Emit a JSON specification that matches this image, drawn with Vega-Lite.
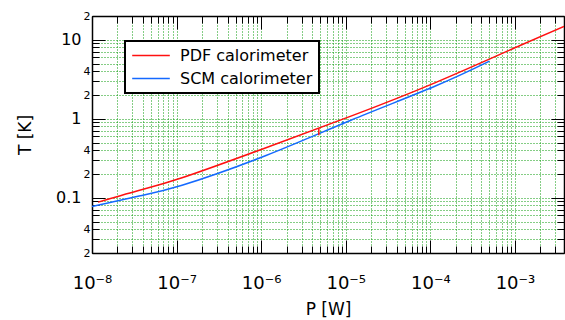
{
  "$schema": "https://vega.github.io/schema/vega-lite/v6.json",
  "width": 472,
  "height": 237,
  "autosize": {"type": "none"},
  "padding": {"left": 92, "top": 16, "right": 1, "bottom": 67},
  "background": "white",
  "datasets": {
    "curves": [
      {"P": 1.18e-8, "T": 0.088, "series": "PDF calorimeter"},
      {"P": 3.4e-8, "T": 0.122, "series": "PDF calorimeter"},
      {"P": 1.16e-7, "T": 0.179, "series": "PDF calorimeter"},
      {"P": 1.14e-6, "T": 0.43, "series": "PDF calorimeter"},
      {"P": 1.15e-5, "T": 1.08, "series": "PDF calorimeter"},
      {"P": 1.13e-4, "T": 2.85, "series": "PDF calorimeter"},
      {"P": 1.15e-3, "T": 8.47, "series": "PDF calorimeter"},
      {"P": 3.8e-3, "T": 14.8, "series": "PDF calorimeter"},
      {"P": 1e-8, "T": 0.0775, "series": "SCM calorimeter"},
      {"P": 3.4e-8, "T": 0.104, "series": "SCM calorimeter"},
      {"P": 1.16e-7, "T": 0.144, "series": "SCM calorimeter"},
      {"P": 1.14e-6, "T": 0.343, "series": "SCM calorimeter"},
      {"P": 1.15e-5, "T": 0.96, "series": "SCM calorimeter"},
      {"P": 1.13e-4, "T": 2.58, "series": "SCM calorimeter"},
      {"P": 5e-4, "T": 5.36, "series": "SCM calorimeter"}
    ],
    "bars": [
      {"P": 4.8e-6, "T1": 0.62, "T2": 0.76, "series": "PDF calorimeter"},
      {"P": 9.3e-6, "T1": 0.85, "T2": 0.93, "series": "SCM calorimeter"},
      {"P": 1e-4, "T1": 2.33, "T2": 2.55, "series": "SCM calorimeter"}
    ]
  },
  "layer": [
    {
      "data": {"name": "curves"},
      "mark": {"type": "line", "strokeWidth": 1.5, "interpolate": "natural", "clip": true},
      "encoding": {
        "x": {
          "field": "P", "type": "quantitative",
          "scale": {"type": "log", "domain": [1e-8, 3.8e-3], "nice": false},
          "axis": {
            "orient": "bottom", "title": null,
            "values": [1e-8, 2e-8, 3e-8, 4e-8, 5e-8, 6e-8, 7e-8, 8e-8, 9e-8, 1e-7, 2e-7, 3e-7, 4e-7, 5e-7, 6e-7, 7e-7, 8e-7, 9e-7, 1e-6, 2e-6, 3e-6, 4e-6, 5e-6, 6e-6, 7e-6, 8e-6, 9e-6, 1e-5, 2e-5, 3e-5, 4e-5, 5e-5, 6e-5, 7e-5, 8e-5, 9e-5, 1e-4, 2e-4, 3e-4, 4e-4, 5e-4, 6e-4, 7e-4, 8e-4, 9e-4, 1e-3, 2e-3, 3e-3],
            "grid": true, "gridColor": "#0a9a0a", "gridDash": [1, 2], "gridWidth": 1,
            "ticks": true, "tickSize": -7, "tickWidth": 1, "tickColor": "black",
            "labels": false, "domain": true, "domainWidth": 1.5, "domainColor": "black"
          }
        },
        "y": {
          "field": "T", "type": "quantitative",
          "scale": {"type": "log", "domain": [0.02, 20], "nice": false},
          "axis": {
            "orient": "left", "title": null,
            "values": [0.02, 0.03, 0.04, 0.05, 0.06, 0.07, 0.08, 0.09, 0.1, 0.2, 0.3, 0.4, 0.5, 0.6, 0.7, 0.8, 0.9, 1, 2, 3, 4, 5, 6, 7, 8, 9, 10, 20],
            "grid": true, "gridColor": "#0a9a0a", "gridDash": [1, 2], "gridWidth": 1,
            "ticks": true, "tickSize": -7, "tickWidth": 1, "tickColor": "black",
            "labels": true,
            "labelExpr": "round(datum.value / pow(10, floor(log(datum.value)/LN10 + 1e-9))) == 2 ? '2' : (round(datum.value / pow(10, floor(log(datum.value)/LN10 + 1e-9))) == 4 ? '4' : '')",
            "labelFontSize": 11, "labelPadding": 9, "labelFont": "DejaVu Sans", "labelColor": "black",
            "labelOverlap": false, "labelFlush": false,
            "domain": true, "domainWidth": 1.5, "domainColor": "black"
          }
        },
        "color": {
          "field": "series", "type": "nominal",
          "scale": {"domain": ["PDF calorimeter", "SCM calorimeter"], "range": ["#ff1010", "#1469ff"]},
          "legend": {
            "title": null, "orient": "none", "legendX": 33, "legendY": 25,
            "symbolType": "stroke", "symbolSize": 1414, "symbolStrokeWidth": 1.5,
            "labelFontSize": 16, "labelFont": "DejaVu Sans", "labelColor": "black",
            "labelOffset": 9, "padding": 6, "strokeColor": "black", "fillColor": "white",
            "clipHeight": 17, "rowPadding": 6
          }
        }
      }
    },
    {
      "data": {"name": "bars"},
      "mark": {"type": "rule", "strokeWidth": 1.5},
      "encoding": {
        "x": {"field": "P", "type": "quantitative", "scale": {"type": "log", "domain": [1e-8, 3.8e-3], "nice": false}, "axis": null},
        "y": {"field": "T1", "type": "quantitative", "scale": {"type": "log", "domain": [0.02, 20], "nice": false}, "axis": null},
        "y2": {"field": "T2"},
        "color": {"field": "series", "type": "nominal", "legend": null}
      }
    },
    {
      "data": {"name": "curves"},
      "mark": {"type": "point", "opacity": 0},
      "encoding": {
        "x": {
          "field": "P", "type": "quantitative",
          "scale": {"type": "log", "domain": [1e-8, 3.8e-3], "nice": false},
          "axis": {
            "orient": "bottom", "title": "P [W]",
            "titleFont": "DejaVu Sans", "titleFontSize": 17, "titleFontWeight": "normal", "titleColor": "black",
            "titleY": 61.5, "titleBaseline": "alphabetic",
            "values": [1e-8, 1e-7, 1e-6, 1e-5, 1e-4, 1e-3],
            "grid": false, "ticks": true, "tickSize": -13, "tickWidth": 1, "tickColor": "black",
            "labels": true,
            "labelExpr": "datum.value < 3e-8 ? '10⁻⁸' : datum.value < 3e-7 ? '10⁻⁷' : datum.value < 3e-6 ? '10⁻⁶' : datum.value < 3e-5 ? '10⁻⁵' : datum.value < 3e-4 ? '10⁻⁴' : '10⁻³'",
            "labelFontSize": 18, "labelFont": "DejaVu Sans", "labelColor": "black",
            "labelBaseline": "alphabetic", "labelPadding": 48,
            "labelOverlap": false, "labelFlush": false,
            "domain": false
          }
        },
        "y": {
          "field": "T", "type": "quantitative",
          "scale": {"type": "log", "domain": [0.02, 20], "nice": false},
          "axis": {
            "orient": "left", "title": "T [K]",
            "titleFont": "DejaVu Sans", "titleFontSize": 17, "titleFontWeight": "normal", "titleColor": "black",
            "titleX": -62, "titleBaseline": "alphabetic",
            "values": [0.1, 1, 10],
            "grid": false, "ticks": true, "tickSize": -13, "tickWidth": 1, "tickColor": "black",
            "labels": true,
            "labelExpr": "datum.value > 3 ? '10' : (datum.value > 0.3 ? '1' : '0.1')",
            "labelFontSize": 16, "labelFont": "DejaVu Sans", "labelColor": "black",
            "labelPadding": 24, "labelOverlap": false, "labelFlush": false,
            "domain": false
          }
        }
      }
    },
    {
      "data": {"name": "curves"},
      "mark": {"type": "point", "opacity": 0},
      "encoding": {
        "x": {
          "field": "P", "type": "quantitative",
          "scale": {"type": "log", "domain": [1e-8, 3.8e-3], "nice": false},
          "axis": {
            "orient": "top", "title": null,
            "values": [1e-8, 2e-8, 3e-8, 4e-8, 5e-8, 6e-8, 7e-8, 8e-8, 9e-8, 1e-7, 2e-7, 3e-7, 4e-7, 5e-7, 6e-7, 7e-7, 8e-7, 9e-7, 1e-6, 2e-6, 3e-6, 4e-6, 5e-6, 6e-6, 7e-6, 8e-6, 9e-6, 1e-5, 2e-5, 3e-5, 4e-5, 5e-5, 6e-5, 7e-5, 8e-5, 9e-5, 1e-4, 2e-4, 3e-4, 4e-4, 5e-4, 6e-4, 7e-4, 8e-4, 9e-4, 1e-3, 2e-3, 3e-3],
            "grid": false, "ticks": true, "tickSize": -7, "tickWidth": 1, "tickColor": "black",
            "labels": false, "domain": true, "domainWidth": 1.5, "domainColor": "black"
          }
        },
        "y": {
          "field": "T", "type": "quantitative",
          "scale": {"type": "log", "domain": [0.02, 20], "nice": false},
          "axis": {
            "orient": "right", "title": null,
            "values": [0.02, 0.03, 0.04, 0.05, 0.06, 0.07, 0.08, 0.09, 0.1, 0.2, 0.3, 0.4, 0.5, 0.6, 0.7, 0.8, 0.9, 1, 2, 3, 4, 5, 6, 7, 8, 9, 10, 20],
            "grid": false, "ticks": true, "tickSize": -7, "tickWidth": 1, "tickColor": "black",
            "labels": false, "domain": true, "domainWidth": 1.5, "domainColor": "black"
          }
        }
      }
    },
    {
      "data": {"name": "curves"},
      "mark": {"type": "point", "opacity": 0},
      "encoding": {
        "x": {
          "field": "P", "type": "quantitative",
          "scale": {"type": "log", "domain": [1e-8, 3.8e-3], "nice": false},
          "axis": {
            "orient": "top", "title": null,
            "values": [1e-8, 1e-7, 1e-6, 1e-5, 1e-4, 1e-3],
            "grid": false, "ticks": true, "tickSize": -13, "tickWidth": 1, "tickColor": "black",
            "labels": false, "domain": false
          }
        },
        "y": {
          "field": "T", "type": "quantitative",
          "scale": {"type": "log", "domain": [0.02, 20], "nice": false},
          "axis": {
            "orient": "right", "title": null,
            "values": [0.1, 1, 10],
            "grid": false, "ticks": true, "tickSize": -13, "tickWidth": 1, "tickColor": "black",
            "labels": false, "domain": false
          }
        }
      }
    }
  ],
  "resolve": {"axis": {"x": "independent", "y": "independent"}},
  "config": {
    "view": {"stroke": null},
    "font": "DejaVu Sans",
    "legend": {"strokeWidth": 2}
  }
}
